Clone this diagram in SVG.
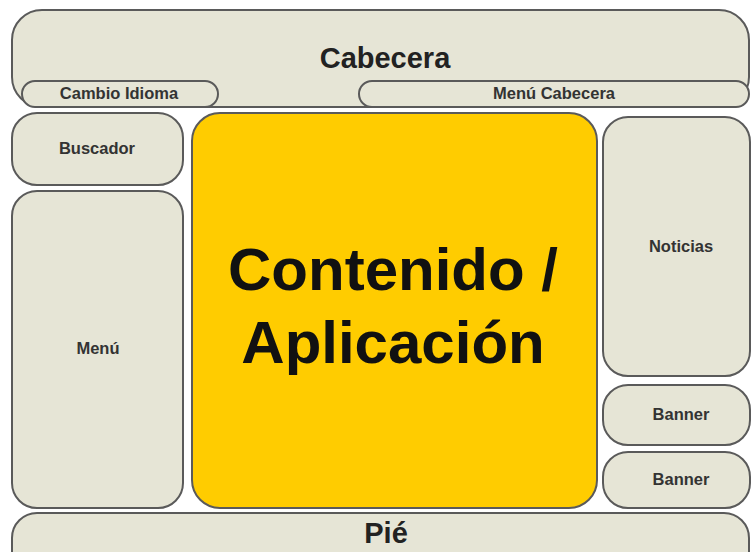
<svg xmlns="http://www.w3.org/2000/svg" width="751" height="552" viewBox="0 0 751 552">
<style>
.box{fill:#E6E5D6;stroke:#5a5a5a;stroke-width:2}
.main{fill:#FFCC00;stroke:#5a5a5a;stroke-width:2}
text{font-family:"Liberation Sans",Arial,sans-serif;font-weight:bold;text-anchor:middle;fill:#222}
.s{font-size:16.5px;fill:#333}
.l{font-size:29px}
.xl{font-size:60px;fill:#111}
</style>
<rect width="751" height="552" fill="#ffffff"/>
<g id="cabecera">
<rect class="box" x="12" y="10" width="737" height="97" rx="30" ry="30"/>
<text class="l" x="385" y="68">Cabecera</text>
</g>
<g id="cambio-idioma">
<rect class="box" x="22" y="81" width="196" height="26" rx="13" ry="13"/>
<text class="s" x="119" y="99">Cambio Idioma</text>
</g>
<g id="menu-cabecera">
<rect class="box" x="359" y="81" width="390" height="26" rx="13" ry="13"/>
<text class="s" x="554" y="99">Menú Cabecera</text>
</g>
<g id="buscador">
<rect class="box" x="12" y="113" width="171" height="72" rx="25" ry="25"/>
<text class="s" x="97" y="154">Buscador</text>
</g>
<g id="menu">
<rect class="box" x="12" y="191" width="171" height="317" rx="25" ry="25"/>
<text class="s" x="98" y="354">Menú</text>
</g>
<g id="contenido">
<rect class="main" x="192" y="113" width="405" height="395" rx="28" ry="28"/>
<text class="xl" x="393" y="290">Contenido /</text>
<text class="xl" x="393" y="363">Aplicación</text>
</g>
<g id="noticias">
<rect class="box" x="603" y="117" width="147" height="259" rx="25" ry="25"/>
<text class="s" x="681" y="252">Noticias</text>
</g>
<g id="banner1">
<rect class="box" x="603" y="385" width="147" height="60" rx="25" ry="25"/>
<text class="s" x="681" y="420">Banner</text>
</g>
<g id="banner2">
<rect class="box" x="603" y="452" width="147" height="56" rx="25" ry="25"/>
<text class="s" x="681" y="485">Banner</text>
</g>
<g id="pie">
<rect class="box" x="12" y="513" width="737" height="70" rx="25" ry="25"/>
<text class="l" x="386" y="543">Pié</text>
</g>
<g id="connectors"/>
</svg>
